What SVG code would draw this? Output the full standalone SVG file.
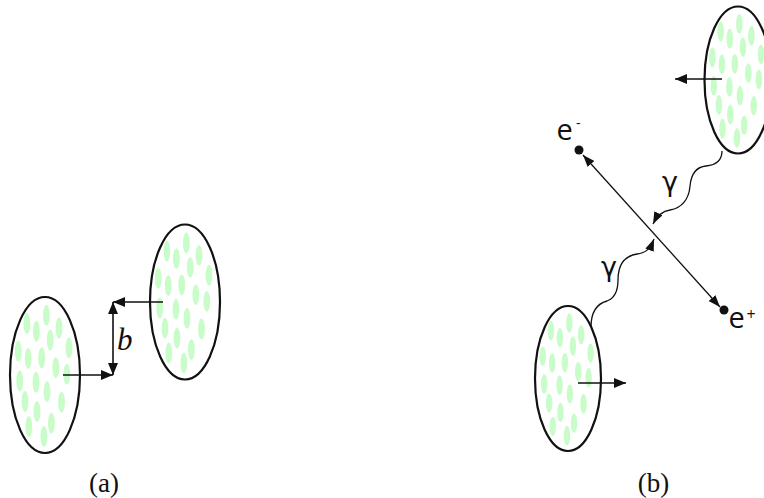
<svg xmlns="http://www.w3.org/2000/svg" width="764" height="498" viewBox="0 0 764 498">
  <style>
    .rim { fill: none; stroke: #111; stroke-width: 2.2; }
    .blob { fill: #c8fcc8; }
    .arr { fill: none; stroke: #111; stroke-width: 1.6; }
    .thin { fill: none; stroke: #111; stroke-width: 1.3; }
    .sans { font-family: "Open Sans", "DejaVu Sans", sans-serif; fill: #111; }
    .greek { font-family: "DejaVu Sans", sans-serif; fill: #111; }
    .serif { font-family: "Liberation Serif", "DejaVu Serif", serif; fill: #111; }
  </style>
  <defs>
    <marker id="head" viewBox="0 0 12 10" refX="12" refY="5" markerWidth="12" markerHeight="10" markerUnits="userSpaceOnUse" orient="auto-start-reverse">
      <path d="M0,0 L12,5 L0,10 z" fill="#111"/>
    </marker>
    <marker id="headS" viewBox="0 0 12 9" refX="12" refY="4.5" markerWidth="12" markerHeight="9" markerUnits="userSpaceOnUse" orient="auto-start-reverse">
      <path d="M0,0 L12,4.5 L0,9 z" fill="#111"/>
    </marker>
    <!-- nucleon pattern for a nucleus of half-axes 35 x 78 -->
    <g id="nucleons" class="blob">
      <ellipse cx="1.4" cy="-59.7" rx="3.4" ry="10.5"/>
      <ellipse cx="-18.1" cy="-51.5" rx="3.4" ry="10.5"/>
      <ellipse cx="-8.6" cy="-43.8" rx="3.4" ry="10.5"/>
      <ellipse cx="14.0" cy="-47.1" rx="3.4" ry="10.5"/>
      <ellipse cx="5.2" cy="-34.9" rx="3.4" ry="10.5"/>
      <ellipse cx="24.0" cy="-27.2" rx="3.4" ry="10.5"/>
      <ellipse cx="-26.8" cy="-23.9" rx="3.4" ry="10.5"/>
      <ellipse cx="-16.8" cy="-16.6" rx="3.4" ry="10.5"/>
      <ellipse cx="-3.3" cy="-17.2" rx="3.4" ry="10.5"/>
      <ellipse cx="10.8" cy="-7.3" rx="3.4" ry="10.5"/>
      <ellipse cx="21.8" cy="-0.7" rx="3.4" ry="10.5"/>
      <ellipse cx="-25.3" cy="6.0" rx="3.4" ry="10.5"/>
      <ellipse cx="-9.0" cy="7.3" rx="3.4" ry="10.5"/>
      <ellipse cx="2.0" cy="16.6" rx="3.4" ry="10.5"/>
      <ellipse cx="-20.0" cy="26.5" rx="3.4" ry="10.5"/>
      <ellipse cx="16.5" cy="27.2" rx="3.4" ry="10.5"/>
      <ellipse cx="-8.0" cy="36.5" rx="3.4" ry="10.5"/>
      <ellipse cx="6.4" cy="48.1" rx="3.4" ry="10.5"/>
      <ellipse cx="-16.2" cy="51.5" rx="3.4" ry="10.5"/>
      <ellipse cx="-1.1" cy="61.4" rx="3.4" ry="10.5"/>
    </g>
  </defs>

  <!-- panel (a): two nuclei passing at impact parameter b -->
  <g id="nucleus-a1">
    <use href="#nucleons" transform="translate(45,375)"/>
    <ellipse class="rim" cx="45" cy="375" rx="35" ry="78"/>
  </g>
  <g id="nucleus-a2">
    <use href="#nucleons" transform="translate(185,302) scale(1,0.99)"/>
    <ellipse class="rim" cx="185" cy="302" rx="35" ry="77.5"/>
  </g>

  <!-- panel (b): photon-photon pair production -->
  <g id="nucleus-b1">
    <use href="#nucleons" transform="translate(738,80) scale(0.957,0.942)"/>
    <ellipse class="rim" cx="738" cy="80" rx="33.5" ry="73.5"/>
  </g>
  <g id="nucleus-b2">
    <use href="#nucleons" transform="translate(568,378.5) scale(0.943,0.93)"/>
    <ellipse class="rim" cx="568" cy="378.5" rx="33" ry="72.5"/>
  </g>
  <g id="electron">
    <circle cx="579" cy="150" r="4.5" fill="#111"/>
    <text class="sans" x="556.5" y="140" font-size="29">e</text>
    <text class="sans" x="576" y="128" font-size="14">-</text>
  </g>
  <g id="positron">
    <circle cx="724" cy="310" r="4.5" fill="#111"/>
    <text class="sans" x="728.5" y="328" font-size="29">e</text>
    <text class="sans" x="746.5" y="320" font-size="16">+</text>
  </g>

  <g id="connectors">
    <!-- velocity arrows and impact parameter -->
    <path class="arr" d="M63,375 H113" marker-end="url(#head)"/>
    <path class="arr" d="M163,302 H113" marker-end="url(#head)"/>
    <path class="arr" d="M113,302 V375" marker-start="url(#head)" marker-end="url(#head)"/>
    <path class="arr" d="M722,79 H675" marker-end="url(#head)"/>
    <path class="arr" d="M578,383 H626" marker-end="url(#head)"/>
    <!-- lepton pair -->
    <path class="thin" d="M583,155 L720,307" marker-start="url(#headS)" marker-end="url(#headS)"/>
    <!-- photons -->
    <path class="thin" d="M722,151 C722,160 716,165 706,166 C696,167 691,175 690,186 C689,199 682,208 670,210 C662,211 657,216 653,224" marker-end="url(#headS)"/>
    <path class="thin" d="M591,327 C591,314 596,304 607,301 C615,298 618,290 618,280 C618,266 624,256 637,254 C646,253 650,249 654,239" marker-end="url(#headS)"/>
  </g>

  <g id="labels">
    <text class="serif" x="117" y="350" font-size="31" font-style="italic">b</text>
    <text class="greek" x="662" y="191" font-size="27">γ</text>
    <text class="greek" x="601" y="276" font-size="27">γ</text>
    <text class="serif" x="104" y="492" font-size="27" text-anchor="middle">(a)</text>
    <text class="serif" x="653.5" y="492" font-size="27" text-anchor="middle">(b)</text>
  </g>
</svg>
